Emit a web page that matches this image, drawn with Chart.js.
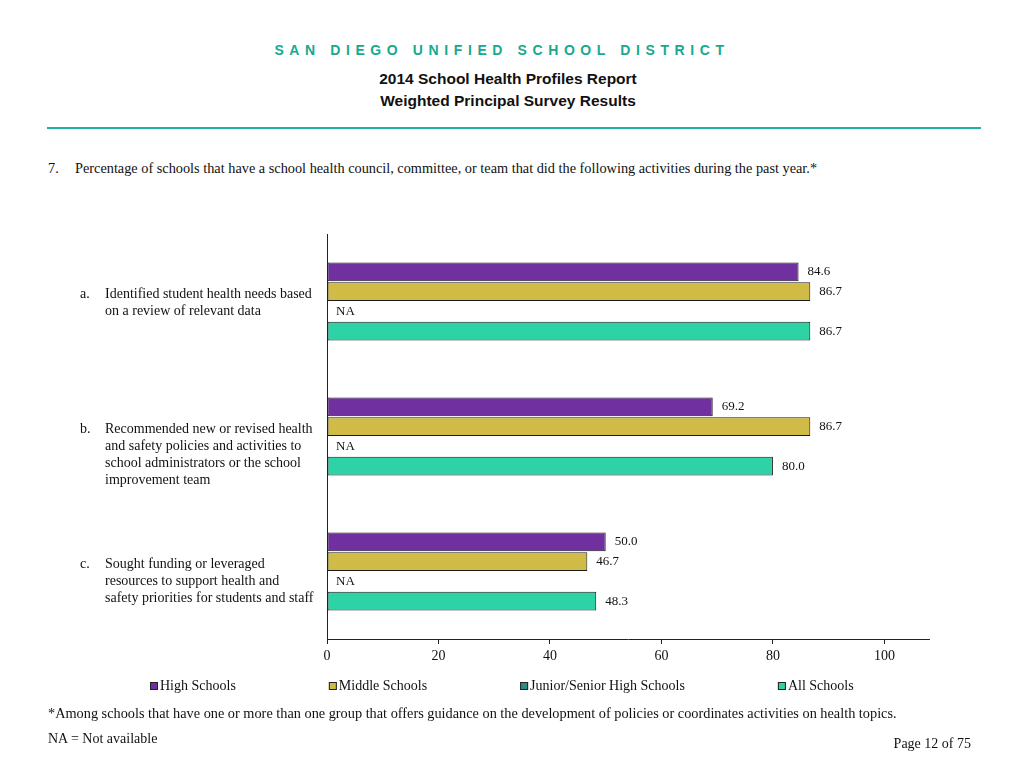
<!DOCTYPE html>
<html><head><meta charset="utf-8">
<script src="https://cdn.jsdelivr.net/npm/chart.js@4.4.0/dist/chart.umd.min.js"></script>
<style>
html,body{margin:0;padding:0;background:#fff;}
body{width:1024px;height:768px;position:relative;overflow:hidden;font-family:"Liberation Serif",serif;color:#111;}
.abs{position:absolute;white-space:nowrap;}
#wrap{position:absolute;left:0;top:0;width:1024px;height:768px;}
</style></head><body>
<div class="abs" style="left:-10px;width:1024px;top:42px;line-height:16px;text-align:center;font-family:'Liberation Sans',Arial,sans-serif;font-weight:bold;font-size:14px;letter-spacing:5.6px;color:#17A98F;">SAN DIEGO UNIFIED SCHOOL DISTRICT</div>
<div class="abs" style="left:-4px;width:1024px;top:70px;line-height:18px;text-align:center;font-family:'Liberation Sans',Arial,sans-serif;font-weight:bold;font-size:15.5px;color:#111;">2014 School Health Profiles Report</div>
<div class="abs" style="left:-4px;width:1024px;top:92px;line-height:18px;text-align:center;font-family:'Liberation Sans',Arial,sans-serif;font-weight:bold;font-size:15.5px;color:#111;">Weighted Principal Survey Results</div>
<div class="abs" style="left:47px;width:934px;top:127px;height:2px;background:#1DB3A6;"></div>
<div class="abs" style="left:48px;top:160px;line-height:16px;font-size:14.3px;">7.</div>
<div class="abs" style="left:75px;top:160px;line-height:16px;font-size:14.3px;">Percentage of schools that have a school health council, committee, or team that did the following activities during the past year.*</div>
<div id="wrap"><canvas id="c"></canvas></div>
<div class="abs" style="left:48px;top:705px;line-height:16px;font-size:14.3px;">*Among schools that have one or more than one group that offers guidance on the development of policies or coordinates activities on health topics.</div>
<div class="abs" style="left:48px;top:731px;line-height:16px;font-size:14px;">NA = Not available</div>
<div class="abs" style="right:53px;top:736px;line-height:16px;font-size:14px;">Page 12 of 75</div>
<script>
const categoryLetters = ['a.', 'b.', 'c.'];
const categoryLines = [
  ['Identified student health needs based', 'on a review of relevant data'],
  ['Recommended new or revised health', 'and safety policies and activities to', 'school administrators or the school', 'improvement team'],
  ['Sought funding or leveraged', 'resources to support health and', 'safety priorities for students and staff']
];
const seriesNames = ['High Schools', 'Middle Schools', 'Junior/Senior High Schools', 'All Schools'];
const seriesColors = ['#7030A0', '#CFBB45', '#2E8B86', '#2ED3A5'];
const highSchools = [84.6, 69.2, 50.0];
const middleSchools = [86.7, 86.7, 46.7];
const juniorSeniorHighSchools = [null, null, null];
const allSchools = [86.7, 80.0, 48.3];
const xTicks = [0, 20, 40, 60, 80, 100];
const xMax = 108;

const seriesValues = [highSchools, middleSchools, juniorSeniorHighSchools, allSchools];
const SERIF = "'Liberation Serif', 'Times New Roman', serif";

const labelsPlugin = {
  id: 'customText',
  afterDatasetsDraw(chart) {
    const ctx = chart.ctx;
    const yScale = chart.scales.y;
    const xScale = chart.scales.x;
    ctx.save();
    ctx.fillStyle = '#111';
    ctx.textBaseline = 'middle';
    // value labels
    ctx.font = '13px ' + SERIF;
    ctx.textAlign = 'left';
    chart.data.datasets.forEach((ds, di) => {
      const meta = chart.getDatasetMeta(di);
      meta.data.forEach((bar, i) => {
        const v = ds.data[i];
        if (v === null || v === undefined) {
          ctx.fillText('NA', xScale.getPixelForValue(0) + 9, bar.y);
        } else {
          ctx.fillText(v.toFixed(1), bar.x + 9, bar.y);
        }
      });
    });
    // category labels
    ctx.font = '14px ' + SERIF;
    categoryLines.forEach((lines, i) => {
      const cy = yScale.getPixelForValue(i) - 7;
      ctx.fillText(categoryLetters[i], 80, cy);
      lines.forEach((ln, k) => ctx.fillText(ln, 105, cy + k * 16.8));
    });
    // legend
    ctx.font = '14px ' + SERIF;
    let x = 150;
    const ly = 686;
    chart.data.datasets.forEach((ds) => {
      ctx.fillStyle = ds.backgroundColor;
      ctx.fillRect(x, ly - 4, 8, 8);
      ctx.strokeStyle = '#222';
      ctx.lineWidth = 1;
      ctx.strokeRect(x + 0.5, ly - 3.5, 7, 7);
      ctx.fillStyle = '#111';
      ctx.fillText(ds.label, x + 10, ly);
      x += 10 + ctx.measureText(ds.label).width + 93;
    });
    ctx.restore();
  }
};

new Chart(document.getElementById('c'), {
  type: 'bar',
  data: {
    labels: categoryLetters,
    datasets: seriesNames.map((name, i) => ({
      label: name,
      data: seriesValues[i],
      backgroundColor: seriesColors[i],
      borderColor: '#1a1a1a',
      borderWidth: 1,
      borderSkipped: false,
      categoryPercentage: 0.585,
      barPercentage: 0.95
    }))
  },
  options: {
    indexAxis: 'y',
    responsive: true,
    maintainAspectRatio: false,
    animation: false,
    layout: { padding: { left: 0, right: 95, top: 234, bottom: 99 } },
    plugins: { legend: { display: false }, tooltip: { enabled: false } },
    scales: {
      x: {
        type: 'linear',
        min: 0,
        max: xMax,
        afterBuildTicks: (s) => { s.ticks = xTicks.map(v => ({ value: v })); },
        afterFit: (s) => { s.height = 30; },
        grid: { display: true, drawOnChartArea: false, drawTicks: true, tickLength: 5, color: '#222', lineWidth: 1 },
        border: { display: true, color: '#222', width: 1 },
        ticks: { color: '#111', padding: 4, font: { family: SERIF, size: 14 } }
      },
      y: {
        type: 'category',
        afterFit: (s) => { s.width = 327; },
        grid: { display: false },
        border: { display: true, color: '#222', width: 1 },
        ticks: { display: false }
      }
    }
  },
  plugins: [labelsPlugin]
});
</script>
</body></html>
